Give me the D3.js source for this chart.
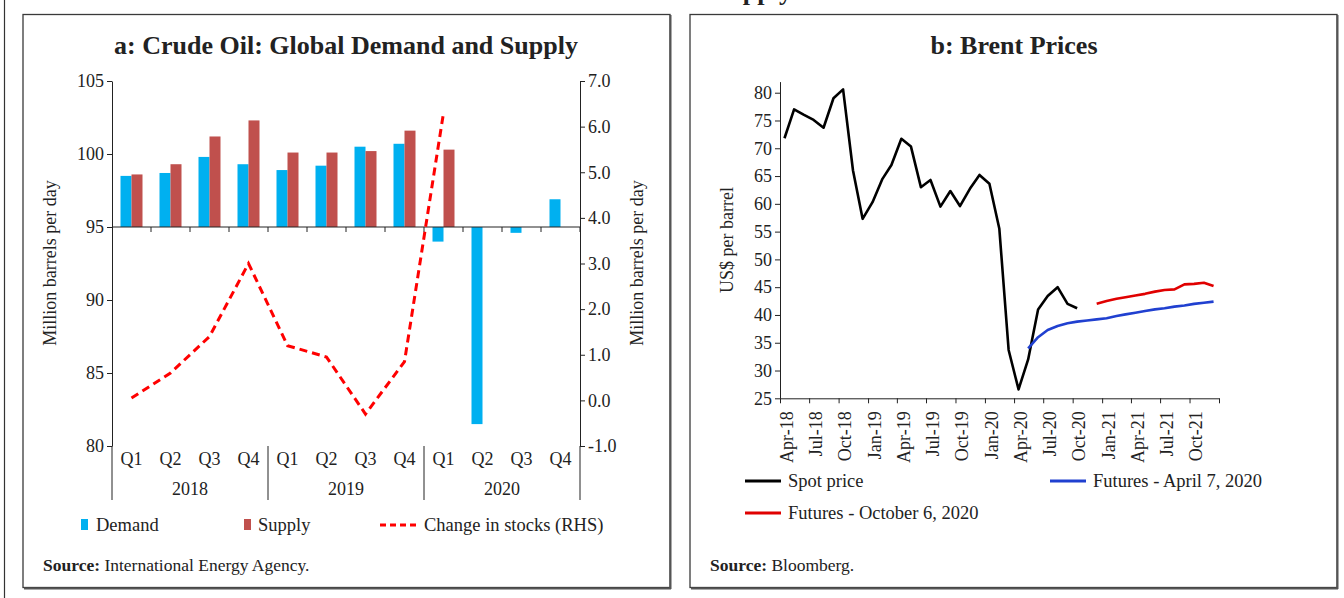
<!DOCTYPE html>
<html>
<head>
<meta charset="utf-8">
<script src="https://cdn.jsdelivr.net/npm/d3@7"></script>
<style>
  body { margin: 0; background: #fff; }
  svg { display: block; font-family: "Liberation Serif", serif; }
  .axis { font-family: "Liberation Serif", serif; }
  .tick text { font-size: 18px; fill: #222; }
  .axis path, .axis line { stroke: #222; }
</style>
</head>
<body>
<div id="chart-area"></div>
<script>
// ---- data: panel a ----
const years = ['2018', '2019', '2020'];
const quarterNames = ['Q1', 'Q2', 'Q3', 'Q4'];
const demand = [98.5, 98.7, 99.8, 99.3, 98.9, 99.2, 100.5, 100.7, 94.0, 81.5, 94.6, 96.9];
const supply = [98.6, 99.3, 101.2, 102.3, 100.1, 100.1, 100.2, 101.6, 100.3, null, null, null];
const stockChange = [0.05, 0.6, 1.4, 3.0, 1.2, 0.95, -0.3, 0.85, 6.3, null, null, null];
const leftTicks = [80, 85, 90, 95, 100, 105];
const rightTicks = [-1, 0, 1, 2, 3, 4, 5, 6, 7];

// ---- data: panel b ----
const spotStart = [2018, 3];     // Apr-18
const spot = [71.8, 77.0, 76.0, 75.1, 73.7, 79.0, 80.6, 66.0, 57.3,
  60.3, 64.5, 67.0, 71.7, 70.3, 63.0, 64.3, 59.5, 62.3, 59.6, 62.7, 65.2,
  63.6, 55.5, 33.7, 26.6, 32.0, 41.0, 43.4, 45.0, 42.0, 41.2];
const futAprStart = [2020, 4];   // May-20
const futApr = [34.0, 36.0, 37.3, 38.0, 38.5, 38.8, 39.0, 39.2, 39.4, 39.8,
  40.1, 40.4, 40.7, 41.0, 41.2, 41.5, 41.7, 42.0, 42.2, 42.4];
const futOctStart = [2020, 11];  // Dec-20
const futOct = [42.0, 42.5, 42.9, 43.2, 43.5, 43.8, 44.2, 44.5, 44.6, 45.5, 45.6, 45.8, 45.2];
const priceTicks = [25, 30, 35, 40, 45, 50, 55, 60, 65, 70, 75, 80];

const W = 1344, H = 598;
const svg = d3.select('#chart-area').append('svg')
  .attr('width', W).attr('height', H);

// outer frame line and clipped heading above
svg.append('line').attr('x1', 4.5).attr('x2', 4.5).attr('y1', 0).attr('y2', H)
  .attr('stroke', '#333').attr('stroke-width', 1.2);
svg.append('text').attr('x', 792).attr('y', 0).attr('text-anchor', 'end')
  .attr('font-size', 26).attr('font-weight', 'bold').attr('fill', '#222').text('Supply');

function panel(x, w) {
  svg.append('rect').attr('x', x).attr('y', 14.5).attr('width', w).attr('height', 573)
    .attr('fill', '#fff').attr('stroke', '#3a3a3a').attr('stroke-width', 1.3);
  svg.append('line').attr('x1', x + 1).attr('x2', x + w + 1).attr('y1', 588.5).attr('y2', 588.5)
    .attr('stroke', '#555').attr('stroke-width', 2);
  svg.append('line').attr('x1', x + w + 0.5).attr('x2', x + w + 0.5).attr('y1', 15).attr('y2', 589)
    .attr('stroke', '#555').attr('stroke-width', 2);
}
panel(23, 647);
panel(690, 647);

// ================= panel a =================
const cats = [];
years.forEach(y => quarterNames.forEach(q => cats.push(y + q)));

const x = d3.scaleBand().domain(cats).range([112, 580]).padding(0);
const sub = d3.scaleBand().domain(['demand', 'supply']).range([-11, 11]);
const yL = d3.scaleLinear().domain([80, 105]).range([446, 81]);
const yR = d3.scaleLinear().domain([-1, 7]).range([446, 81]);

const a = svg.append('g');

a.append('text').attr('x', 346).attr('y', 54).attr('text-anchor', 'middle')
  .attr('font-size', 26).attr('font-weight', 'bold').attr('fill', '#222')
  .text('a: Crude Oil: Global Demand and Supply');

// bars
const base = yL(95);
const barData = [];
cats.forEach((c, i) => {
  if (demand[i] != null) barData.push({ c, k: 'demand', v: demand[i] });
  if (supply[i] != null) barData.push({ c, k: 'supply', v: supply[i] });
});
a.selectAll('rect.bar').data(barData).enter().append('rect')
  .attr('class', 'bar')
  .attr('x', d => x(d.c) + x.bandwidth() / 2 + sub(d.k))
  .attr('width', sub.bandwidth())
  .attr('y', d => Math.min(yL(d.v), base))
  .attr('height', d => Math.abs(yL(d.v) - base))
  .attr('fill', d => d.k === 'demand' ? '#00B0F0' : '#C0504D');

function serifAxis(g) {
  g.attr('font-family', null).attr('font-size', null);
}

// left axis
a.append('g').attr('class', 'axis').attr('transform', 'translate(112,0)')
  .call(d3.axisLeft(yL).tickValues(leftTicks).tickSize(5).tickSizeOuter(0).tickFormat(d3.format('d')))
  .call(serifAxis)
  .call(g => g.selectAll('.tick text').attr('x', -8));
// right axis
a.append('g').attr('class', 'axis').attr('transform', 'translate(580,0)')
  .call(d3.axisRight(yR).tickValues(rightTicks).tickSize(5).tickSizeOuter(0)
    .tickFormat(d => d.toFixed(1)))
  .call(serifAxis)
  .call(g => g.selectAll('.tick text').attr('x', 8));

// category axis at 95
a.append('line').attr('x1', 112).attr('x2', 580).attr('y1', base).attr('y2', base)
  .attr('stroke', '#222');
a.selectAll('line.ctick').data(cats.slice(1).concat(['end'])).enter().append('line')
  .attr('class', 'ctick')
  .attr('x1', d => d === 'end' ? 580 : x(d)).attr('x2', d => d === 'end' ? 580 : x(d))
  .attr('y1', base).attr('y2', base + 5).attr('stroke', '#222');

// group separators below plot
[0, 4, 8, 12].forEach(i => {
  const xx = i < 12 ? x(cats[i]) : 580;
  a.append('line').attr('x1', xx).attr('x2', xx).attr('y1', 446).attr('y2', 500)
    .attr('stroke', '#222');
});
a.selectAll('text.q').data(cats).enter().append('text')
  .attr('class', 'q')
  .attr('x', d => x(d) + x.bandwidth() / 2).attr('y', 465)
  .attr('text-anchor', 'middle').attr('font-size', 18).attr('fill', '#222')
  .text(d => d.slice(4));
a.selectAll('text.yr').data(years).enter().append('text')
  .attr('class', 'yr')
  .attr('x', (d, i) => x(d + 'Q2') + x.bandwidth())
  .attr('y', 495).attr('text-anchor', 'middle').attr('font-size', 18).attr('fill', '#222')
  .text(d => d);

// stock change line
const stockLine = d3.line()
  .defined(d => d.v != null)
  .x(d => x(d.c) + x.bandwidth() / 2)
  .y(d => yR(d.v));
a.append('path')
  .datum(cats.map((c, i) => ({ c, v: stockChange[i] })))
  .attr('d', stockLine)
  .attr('fill', 'none').attr('stroke', '#FF0000').attr('stroke-width', 3)
  .attr('stroke-dasharray', '8,5');

// axis titles
a.append('text').attr('transform', 'translate(56,263) rotate(-90)')
  .attr('text-anchor', 'middle').attr('font-size', 18).attr('fill', '#222')
  .text('Million barrels per day');
a.append('text').attr('transform', 'translate(643,263) rotate(-90)')
  .attr('text-anchor', 'middle').attr('font-size', 18).attr('fill', '#222')
  .text('Million barrels per day');

// legend
const legA = a.append('g').attr('font-size', 18.5).attr('fill', '#222');
legA.append('rect').attr('x', 81).attr('y', 519).attr('width', 7).attr('height', 11).attr('fill', '#00B0F0');
legA.append('text').attr('x', 96).attr('y', 531).text('Demand');
legA.append('rect').attr('x', 244).attr('y', 519).attr('width', 7).attr('height', 11).attr('fill', '#C0504D');
legA.append('text').attr('x', 258).attr('y', 531).text('Supply');
legA.append('line').attr('x1', 380).attr('x2', 416).attr('y1', 525).attr('y2', 525)
  .attr('stroke', '#FF0000').attr('stroke-width', 3).attr('stroke-dasharray', '6,4');
legA.append('text').attr('x', 424).attr('y', 531).text('Change in stocks (RHS)');

const srcA = a.append('text').attr('x', 43).attr('y', 571).attr('font-size', 17.5).attr('fill', '#222');
srcA.append('tspan').attr('font-weight', 'bold').text('Source:');
srcA.append('tspan').text(' International Energy Agency.');

// ================= panel b =================
const b = svg.append('g');
b.append('text').attr('x', 1014).attr('y', 54).attr('text-anchor', 'middle')
  .attr('font-size', 26).attr('font-weight', 'bold').attr('fill', '#222')
  .text('b: Brent Prices');

const xT = d3.scaleTime().domain([new Date(2018, 3, 1), new Date(2022, 0, 1)]).range([780, 1219]);
const yP = d3.scaleLinear().domain([25, 82]).range([398.3, 81.6]);

b.append('g').attr('class', 'axis').attr('transform', 'translate(780,0)')
  .call(d3.axisLeft(yP).tickValues(priceTicks).tickSize(5).tickSizeOuter(0))
  .call(serifAxis)
  .call(g => g.selectAll('.tick text').attr('x', -8));

const qTicks = d3.timeMonth.every(3).range(new Date(2018, 3, 1), new Date(2022, 0, 2));
const lastTick = qTicks[qTicks.length - 1];
const fmt = d3.timeFormat('%b-%y');
b.append('g').attr('class', 'axis').attr('transform', 'translate(0,398.3)')
  .call(d3.axisBottom(xT).tickValues(qTicks).tickSize(5).tickSizeOuter(0)
    .tickFormat(d => +d === +lastTick ? '' : fmt(d)))
  .call(serifAxis)
  .call(g => g.selectAll('.tick text')
    .attr('text-anchor', 'end')
    .attr('transform', 'translate(6,13) rotate(-90)')
    .attr('x', 0).attr('y', 0).attr('dy', '0.35em'));

function monthly(start, vals) {
  return vals.map((v, i) => ({ d: new Date(start[0], start[1] + i, 15), v }));
}
const priceLine = d3.line().x(d => xT(d.d)).y(d => yP(d.v));
[[monthly(spotStart, spot), '#000000'],
 [monthly(futAprStart, futApr), '#2040D0'],
 [monthly(futOctStart, futOct), '#E00000']].forEach(([data, col]) => {
  b.append('path').datum(data).attr('d', priceLine)
    .attr('fill', 'none').attr('stroke', col).attr('stroke-width', 2.6)
    .attr('stroke-linejoin', 'round');
});

b.append('text').attr('transform', 'translate(733,240) rotate(-90)')
  .attr('text-anchor', 'middle').attr('font-size', 18).attr('fill', '#222')
  .text('US$ per barrel');

const legB = b.append('g').attr('font-size', 18.5).attr('fill', '#222');
[['Spot price', '#000000', 745, 481], ['Futures - April 7, 2020', '#2040D0', 1050, 481],
 ['Futures - October 6, 2020', '#E00000', 745, 513]].forEach(([t, col, lx, ly]) => {
  legB.append('line').attr('x1', lx).attr('x2', lx + 36).attr('y1', ly).attr('y2', ly)
    .attr('stroke', col).attr('stroke-width', 3);
  legB.append('text').attr('x', lx + 43).attr('y', ly + 6).text(t);
});

const srcB = b.append('text').attr('x', 710).attr('y', 571).attr('font-size', 17.5).attr('fill', '#222');
srcB.append('tspan').attr('font-weight', 'bold').text('Source:');
srcB.append('tspan').text(' Bloomberg.');
</script>
</body>
</html>
